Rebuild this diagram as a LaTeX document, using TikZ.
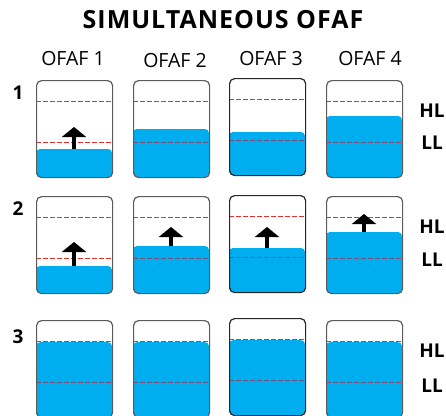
\documentclass[tikz,border=0pt]{standalone}
\usepackage{fontspec}
\setmainfont{Open Sans}
\newfontfamily\titlefont[LetterSpace=4]{Open Sans}
\usetikzlibrary{arrows.meta}
\definecolor{water}{HTML}{00AEEF}
\definecolor{level}{HTML}{E8302B}
\definecolor{wetlevel}{HTML}{7A4F78}
\definecolor{rim}{HTML}{5B5B5B}

% tank: [style] name, left x, top y, water surface y
\newcommand{\tank}[5][]{%
  \fill[water,rounded corners=4pt] (#3,#5) rectangle (#3+76,#4+97);
  \draw[levelline] (#3,#4+21.5) -- (#3+76,#4+21.5);
  \draw[levelline] (#3,#4+62.5) -- (#3+76,#4+62.5);
  \begin{scope}
    \clip (#3,#5) rectangle (#3+76,#4+97);
    \draw[wetline] (#3,#4+21.5) -- (#3+76,#4+21.5);
    \draw[wetline] (#3,#4+62.5) -- (#3+76,#4+62.5);
  \end{scope}
  \node[tank,#1] (#2) at (#3,#4) {};
  \coordinate (#2-w) at (#3+38,#5);
}

\begin{document}
\begin{tikzpicture}[x=1pt,y=-1pt,
  tank/.style={draw=rim,line width=1.2pt,rounded corners=5pt,minimum width=76pt,
    minimum height=97pt,anchor=north west,inner sep=0pt},
  levelline/.style={draw=level,line width=1.2pt,dash pattern=on 5pt off 2pt},
  wetline/.style={levelline,draw=wetlevel},
  rise/.style={line width=3.2pt,-{Triangle[length=10pt,width=24pt]}},
  head/.style={font=\fontsize{19.5}{22}\selectfont,anchor=base},
  tag/.style={font=\fontsize{19}{22}\selectfont\bfseries,anchor=base}]
\useasboundingbox (0,0) rectangle (446,415);

\node[font=\titlefont\fontsize{25}{28}\selectfont\bfseries,anchor=base] (title) at (223,28) {SIMULTANEOUS OFAF};
\node[head] (h1) at (73,65) {OFAF 1};
\node[head] (h2) at (175,67) {OFAF 2};
\node[head] (h3) at (271,65) {OFAF 3};
\node[head] (h4) at (370,65) {OFAF 4};

% row 1
\node[tag] (r1) at (18,99) {1};
\tank{t11}{36}{80}{149}
\tank{t12}{133}{80}{129}
\tank[draw=black!85]{t13}{229}{78}{132}
\tank{t14}{326}{80}{116}
\coordinate (t11-tip) at (74,127);
\draw[rise] (t11-w) -- (t11-tip);
\node[tag] (hl1) at (432,117) {HL};
\node[tag] (ll1) at (432,149) {LL};

% row 2
\node[tag] (r2) at (18,215) {2};
\tank{t21}{36}{196}{266}
\tank{t22}{133}{196}{246}
\tank[draw=black!85]{t23}{229}{195}{248}
\tank{t24}{326}{196}{232}
\coordinate (t21-tip) at (74,242);
\coordinate (t22-tip) at (171,227);
\coordinate (t23-tip) at (267,227);
\coordinate (t24-tip) at (364,214);
\draw[rise] (t21-w) -- (t21-tip);
\draw[rise] (t22-w) -- (t22-tip);
\draw[rise] (t23-w) -- (t23-tip);
\draw[rise] (t24-w) -- (t24-tip);
\node[tag] (hl2) at (432,233) {HL};
\node[tag] (ll2) at (432,266) {LL};

% row 3
\node[tag] (r3) at (18,343) {3};
\tank{t31}{36}{320}{342.2}
\tank{t32}{133}{320}{342.2}
\tank[draw=black!85]{t33}{229}{318}{340.2}
\tank{t34}{326}{320}{342.2}
\node[tag] (hl3) at (432,357) {HL};
\node[tag] (ll3) at (432,392) {LL};
\end{tikzpicture}
\end{document}
